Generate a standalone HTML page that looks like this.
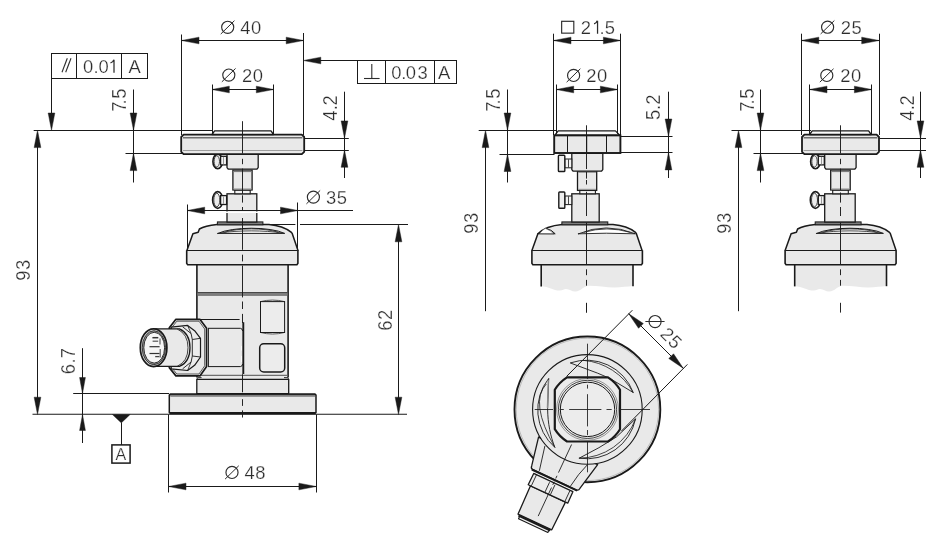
<!DOCTYPE html>
<html><head><meta charset="utf-8"><title>Drawing</title>
<style>html,body{margin:0;padding:0;background:#fff;}svg{display:block;will-change:transform}text{font-family:"Liberation Sans",sans-serif;}</style>
</head><body>
<svg width="938" height="546" viewBox="0 0 938 546">
<rect x="0" y="0" width="938" height="546" fill="#fff"/>
<rect x="196.89999999999998" y="264.6" width="91.2" height="114.6" fill="#e9e9e9"/>
<line x1="196.89999999999998" y1="264.6" x2="196.89999999999998" y2="377.6" stroke="#1a1a1a" stroke-width="1.6" />
<line x1="288.1" y1="264.6" x2="288.1" y2="377.6" stroke="#1a1a1a" stroke-width="1.6" />
<line x1="197.6" y1="294" x2="287.4" y2="294" stroke="#7d7d7d" stroke-width="3.2" />
<line x1="197.6" y1="292.5" x2="287.4" y2="292.5" stroke="#1a1a1a" stroke-width="0.7" />
<line x1="197.6" y1="295.5" x2="287.4" y2="295.5" stroke="#555" stroke-width="0.5" />
<line x1="197.7" y1="375.4" x2="287.3" y2="375.4" stroke="#6e6e6e" stroke-width="1.1" />
<polygon points="196.80,393.70 196.80,379.30 288.70,379.30 288.70,393.70" fill="#e9e9e9" stroke="#1a1a1a" stroke-width="1.3" stroke-linejoin="round" />
<path d="M197.0,379 L197.6,377.7 L201.2,377.6" fill="none" stroke="#1a1a1a" stroke-width="0.9" stroke-linejoin="round" stroke-linecap="round" />
<path d="M288.5,379 L287.9,377.7 L284.4,377.6" fill="none" stroke="#1a1a1a" stroke-width="0.9" stroke-linejoin="round" stroke-linecap="round" />
<polygon points="169.30,395.00 170.30,394.00 315.00,394.00 316.00,395.00 316.00,412.40 315.00,413.40 170.30,413.40 169.30,412.40" fill="#e9e9e9" stroke="#1a1a1a" stroke-width="1.5" stroke-linejoin="round" />
<line x1="169.8" y1="394.9" x2="315.5" y2="394.9" stroke="#1a1a1a" stroke-width="1.2" />
<line x1="169.8" y1="412.5" x2="315.5" y2="412.5" stroke="#1a1a1a" stroke-width="1.0" />
<line x1="170.3" y1="396.5" x2="315" y2="396.5" stroke="#8c8c8c" stroke-width="0.9" />
<path d="M187.0,250.3 L192.9,233.7 L198.2,232.3 L199.4,229 Q205.0,225.6 217.0,224.5 L268.9,224.5 Q282.9,225.6 291.4,232.3 L292.29999999999995,233.7 L297.9,250.3" fill="#e9e9e9" stroke="#1a1a1a" stroke-width="1.5" stroke-linejoin="round" stroke-linecap="round" />
<polygon points="186.70,250.30 186.70,263.40 187.70,264.80 296.90,264.80 297.90,263.40 297.90,250.30" fill="#e9e9e9"/>
<polyline points="186.70,250.30 186.70,263.40 187.70,264.80 296.90,264.80 297.90,263.40 297.90,250.30" fill="none" stroke="#1a1a1a" stroke-width="1.6" stroke-linejoin="round"/>
<line x1="186.7" y1="250.5" x2="297.9" y2="250.5" stroke="#1a1a1a" stroke-width="1.0" />
<path d="M217.8,233.4 L284.7,233.4 C269.98199999999997,226.5 232.518,226.5 217.8,233.4 Z" fill="#fff" stroke="#1a1a1a" stroke-width="1.0" stroke-linejoin="round" stroke-linecap="round" />
<path d="M224.8,232.1 C237.87,227.8 264.63,227.8 277.7,232.1" fill="none" stroke="#1a1a1a" stroke-width="0.8" stroke-linejoin="round" stroke-linecap="round" />
<path d="M220.8,232.9 C237.87,230.20000000000002 264.63,230.20000000000002 281.7,232.9" fill="none" stroke="#1a1a1a" stroke-width="0.8" stroke-linejoin="round" stroke-linecap="round" />
<path d="M260.5,301.6 Q272.5,298.4 284.6,301.6 M260.5,332.5 Q272.5,335.7 284.6,332.5" fill="none" stroke="#5a5a5a" stroke-width="1.0" stroke-linejoin="round" stroke-linecap="round" />
<rect x="260.5" y="301.6" width="24.10" height="30.90" rx="0" fill="#ececec" stroke="#1a1a1a" stroke-width="1.0" />
<rect x="259.7" y="343.8" width="25.00" height="28.20" rx="4" fill="#ececec" stroke="#1a1a1a" stroke-width="1.5" />
<polygon points="175.90,319.30 199.90,319.30 206.60,328.30 206.60,366.40 199.90,375.90 175.90,375.90 169.30,367.60 169.30,327.70" fill="#e9e9e9" stroke="#1a1a1a" stroke-width="1.7" stroke-linejoin="round" />
<polygon points="176.80,321.20 199.00,321.20 204.70,329.00 204.70,365.80 199.00,374.00 176.80,374.00 171.20,367.00 171.20,328.40" fill="none" stroke="#1a1a1a" stroke-width="0.7" stroke-linejoin="round" />
<line x1="200" y1="319.5" x2="239.6" y2="319.5" stroke="#1a1a1a" stroke-width="1.0" />
<path d="M208.4,328.3 L240.4,328.3 Q242.4,328.5 242.6,330.6" fill="none" stroke="#1a1a1a" stroke-width="1.0" stroke-linejoin="round" stroke-linecap="round" />
<path d="M208.4,366.6 L240.4,366.6 Q242.4,366.4 242.6,364.4" fill="none" stroke="#1a1a1a" stroke-width="1.0" stroke-linejoin="round" stroke-linecap="round" />
<line x1="208.5" y1="328.3" x2="208.5" y2="366.6" stroke="#1a1a1a" stroke-width="0.9" />
<line x1="243.3" y1="322.2" x2="243.3" y2="374" stroke="#1a1a1a" stroke-width="1.9" />
<polygon points="171.20,327.10 187.60,325.40 194.60,330.70 200.50,338.30 200.50,357.00 194.60,365.30 187.60,370.50 171.20,368.80" fill="#ececec" stroke="#1a1a1a" stroke-width="1.2" stroke-linejoin="round" />
<path d="M182.9,327 L191.1,333.6 L192.3,339.5 L192.3,356 L191.1,362 L182.9,368.6" fill="none" stroke="#1a1a1a" stroke-width="0.9" stroke-linejoin="round" stroke-linecap="round" />
<line x1="192.3" y1="339.5" x2="200.5" y2="338.3" stroke="#1a1a1a" stroke-width="0.9" />
<line x1="192.3" y1="356" x2="200.5" y2="357" stroke="#1a1a1a" stroke-width="0.9" />
<line x1="187.6" y1="325.4" x2="191.1" y2="333.6" stroke="#1a1a1a" stroke-width="0.8" />
<line x1="187.6" y1="370.5" x2="191.1" y2="362" stroke="#1a1a1a" stroke-width="0.8" />
<path d="M154,328.9 L179.4,328.9 Q190,333.5 190,347.7 Q190,362 179.4,366.4 L154,366.4 Z" fill="#e9e9e9" stroke="#1a1a1a" stroke-width="1.3" stroke-linejoin="round" stroke-linecap="round" />
<path d="M177.6,329.2 Q188,334 188,347.7 Q188,361.6 177.6,366.1" fill="none" stroke="#1a1a1a" stroke-width="0.8" stroke-linejoin="round" stroke-linecap="round" />
<ellipse cx="153.6" cy="347.7" rx="13.3" ry="18.9" fill="#dcdcdc" stroke="#1a1a1a" stroke-width="1.7"/>
<ellipse cx="153.9" cy="347.7" rx="11.7" ry="17" fill="#9a9a9a" stroke="#1a1a1a" stroke-width="0.8"/>
<ellipse cx="154.2" cy="347.7" rx="10.4" ry="15.4" fill="#f6f6f6" stroke="#1a1a1a" stroke-width="0.9"/>
<line x1="152.4" y1="337.7" x2="158.3" y2="337.7" stroke="#333" stroke-width="1.5" />
<line x1="152.6" y1="341.2" x2="158.2" y2="341.2" stroke="#555" stroke-width="1.2" />
<line x1="149.5" y1="346.7" x2="159.6" y2="346.7" stroke="#333" stroke-width="1.2" />
<line x1="149.5" y1="353.5" x2="159.6" y2="353.5" stroke="#333" stroke-width="1.2" />
<line x1="155.2" y1="356.6" x2="159.4" y2="356.6" stroke="#444" stroke-width="1.3" />
<line x1="160" y1="338.4" x2="160" y2="344.6" stroke="#555" stroke-width="1.1" />
<line x1="160.2" y1="349" x2="160.2" y2="357.6" stroke="#555" stroke-width="1.1" />
<rect x="217.4" y="221.9" width="45.50" height="2.90" rx="0" fill="#7d7d7d" stroke="#1a1a1a" stroke-width="1.0" />
<rect x="227.0" y="193.8" width="29.80" height="28.20" rx="0" fill="#e9e9e9" stroke="#1a1a1a" stroke-width="1.3" />
<rect x="234.79999999999998" y="190" width="15.40" height="3.80" rx="0" fill="#f4f4f4" stroke="#1a1a1a" stroke-width="1.1" />
<rect x="232.9" y="170.2" width="19.20" height="19.80" rx="0" fill="#e9e9e9" stroke="#1a1a1a" stroke-width="1.3" />
<line x1="233.5" y1="171.3" x2="251.5" y2="171.3" stroke="#7d7d7d" stroke-width="1.6" />
<line x1="233.5" y1="189" x2="251.5" y2="189" stroke="#9a9a9a" stroke-width="1.2" />
<polygon points="227.00,154.30 258.20,154.30 258.20,167.60 256.80,169.20 228.40,169.20 227.00,167.60" fill="#e9e9e9" stroke="#1a1a1a" stroke-width="1.3" stroke-linejoin="round" />
<ellipse cx="217.7" cy="161.4" rx="4.8" ry="7.3" fill="#fff" stroke="#1a1a1a" stroke-width="1.6"/>
<ellipse cx="216.8" cy="161.4" rx="2.6999999999999997" ry="5.699999999999999" fill="#ededed" stroke="#1a1a1a" stroke-width="0.8"/>
<rect x="220.6" y="156.3" width="6.00" height="8.60" rx="0" fill="#f4f4f4" stroke="#1a1a1a" stroke-width="1.3" />
<line x1="223.5" y1="156.9" x2="223.5" y2="164.3" stroke="#999" stroke-width="1.0" />
<ellipse cx="217.7" cy="200" rx="5.1" ry="8.4" fill="#fff" stroke="#1a1a1a" stroke-width="1.6"/>
<ellipse cx="216.8" cy="200" rx="2.9999999999999996" ry="6.800000000000001" fill="#ededed" stroke="#1a1a1a" stroke-width="0.8"/>
<rect x="220.6" y="195.6" width="6.00" height="8.90" rx="0" fill="#f4f4f4" stroke="#1a1a1a" stroke-width="1.3" />
<line x1="223.5" y1="196.2" x2="223.5" y2="203.9" stroke="#999" stroke-width="1.0" />
<line x1="225.6" y1="212.2" x2="258.6" y2="212.2" stroke="#fff" stroke-width="1.4" />
<polygon points="181.20,137.00 183.60,134.60 301.80,134.60 304.20,137.00 304.20,151.80 301.80,154.20 183.60,154.20 181.20,151.80" fill="#e9e9e9" stroke="#1a1a1a" stroke-width="1.8" stroke-linejoin="round" />
<line x1="183" y1="137.8" x2="302.4" y2="137.8" stroke="#6f6f6f" stroke-width="1.6" />
<line x1="183" y1="150.5" x2="302.4" y2="150.5" stroke="#8a8a8a" stroke-width="0.8" />
<polygon points="212.00,134.50 214.60,130.90 271.00,130.90 273.60,134.50" fill="#fafafa" stroke="#1a1a1a" stroke-width="1.3" stroke-linejoin="round" />
<line x1="242.5" y1="121.2" x2="242.5" y2="153.5" stroke="#1a1a1a" stroke-width="0.95" />
<line x1="242.5" y1="158.8" x2="242.5" y2="164.2" stroke="#1a1a1a" stroke-width="0.95" />
<line x1="242.5" y1="168.6" x2="242.5" y2="193.8" stroke="#1a1a1a" stroke-width="0.95" />
<line x1="242.5" y1="195.3" x2="242.5" y2="202.6" stroke="#1a1a1a" stroke-width="0.95" />
<line x1="242.5" y1="207" x2="242.5" y2="210" stroke="#1a1a1a" stroke-width="0.95" />
<line x1="242.5" y1="218" x2="242.5" y2="249.8" stroke="#1a1a1a" stroke-width="0.95" />
<line x1="242.5" y1="254.7" x2="242.5" y2="261.4" stroke="#1a1a1a" stroke-width="0.95" />
<line x1="242.5" y1="265.6" x2="242.5" y2="297.4" stroke="#1a1a1a" stroke-width="0.95" />
<line x1="242.5" y1="301.5" x2="242.5" y2="309" stroke="#1a1a1a" stroke-width="0.95" />
<line x1="242.5" y1="313.9" x2="242.5" y2="323" stroke="#1a1a1a" stroke-width="0.95" />
<line x1="242.5" y1="374.2" x2="242.5" y2="392.3" stroke="#1a1a1a" stroke-width="0.95" />
<line x1="242.5" y1="399.2" x2="242.5" y2="405.9" stroke="#1a1a1a" stroke-width="0.95" />
<line x1="242.5" y1="410.4" x2="242.5" y2="417.5" stroke="#1a1a1a" stroke-width="0.95" />
<line x1="241.5" y1="346" x2="241.5" y2="350.5" stroke="#fff" stroke-width="0.9" />
<line x1="241.5" y1="356" x2="241.5" y2="362" stroke="#fff" stroke-width="0.9" />
<rect x="51.5" y="53.5" width="96.00" height="25.00" rx="0" fill="none" stroke="#1a1a1a" stroke-width="1.0" />
<line x1="76.5" y1="53.5" x2="76.5" y2="78.5" stroke="#1a1a1a" stroke-width="1.0" />
<line x1="121.5" y1="53.5" x2="121.5" y2="78.5" stroke="#1a1a1a" stroke-width="1.0" />
<line x1="62" y1="72.3" x2="67.3" y2="58.2" stroke="#2c2c2c" stroke-width="1.1" />
<line x1="65.7" y1="72.3" x2="71" y2="58.2" stroke="#2c2c2c" stroke-width="1.1" />
<text x="82.93" y="72.8" font-size="18.4" fill="#2c2c2c" stroke="#fff" stroke-width="0.25">0</text>
<text x="93.60" y="72.8" font-size="18.4" fill="#2c2c2c" stroke="#fff" stroke-width="0.25">.</text>
<text x="98.58" y="72.8" font-size="18.4" fill="#2c2c2c" stroke="#fff" stroke-width="0.25">0</text>
<path d="M114.00,72.8 L114.00,59.80 M110.50,62.90 Q113.10,62.30 113.70,59.80" fill="none" stroke="#2c2c2c" stroke-width="1.25"/>
<text x="128.46" y="72.8" font-size="18.4" fill="#2c2c2c" stroke="#fff" stroke-width="0.25">A</text>
<line x1="51.5" y1="78.5" x2="51.5" y2="125" stroke="#1a1a1a" stroke-width="1.0" />
<polygon points="51.50,130.30 48.15,113.00 54.85,113.00" fill="#1a1a1a" stroke="#1a1a1a" stroke-width="0.45" stroke-linejoin="miter" stroke-miterlimit="10"/>
<line x1="33.7" y1="130.5" x2="213" y2="130.5" stroke="#1a1a1a" stroke-width="1.0" />
<line x1="37.5" y1="140" x2="37.5" y2="405" stroke="#1a1a1a" stroke-width="1.0" />
<polygon points="37.50,130.30 40.85,147.60 34.15,147.60" fill="#1a1a1a" stroke="#1a1a1a" stroke-width="0.45" stroke-linejoin="miter" stroke-miterlimit="10"/>
<polygon points="37.50,414.50 34.15,397.20 40.85,397.20" fill="#1a1a1a" stroke="#1a1a1a" stroke-width="0.45" stroke-linejoin="miter" stroke-miterlimit="10"/>
<text x="0" y="0" font-size="18.4" text-anchor="middle" fill="#2c2c2c" stroke="#fff" stroke-width="0.25" letter-spacing="0.5" transform="translate(29.5 270.0) rotate(-90) scale(1,1.05)" >93</text>
<line x1="133.5" y1="89.5" x2="133.5" y2="182.5" stroke="#1a1a1a" stroke-width="1.0" />
<polygon points="133.50,130.30 130.15,113.00 136.85,113.00" fill="#1a1a1a" stroke="#1a1a1a" stroke-width="0.45" stroke-linejoin="miter" stroke-miterlimit="10"/>
<polygon points="133.50,153.30 136.85,170.60 130.15,170.60" fill="#1a1a1a" stroke="#1a1a1a" stroke-width="0.45" stroke-linejoin="miter" stroke-miterlimit="10"/>
<line x1="125.5" y1="153.5" x2="182.5" y2="153.5" stroke="#1a1a1a" stroke-width="1.0" />
<g transform="translate(125.9 0) rotate(-90) scale(1,1.05)">
<text x="-111.84" y="0" font-size="18.4" fill="#2c2c2c" stroke="#fff" stroke-width="0.25">7</text>
<text x="-104.55" y="0" font-size="18.4" fill="#2c2c2c" stroke="#fff" stroke-width="0.25">.</text>
<text x="-98.79" y="0" font-size="18.4" fill="#2c2c2c" stroke="#fff" stroke-width="0.25">5</text>
</g>
<line x1="181.5" y1="34.5" x2="181.5" y2="135" stroke="#1a1a1a" stroke-width="1.0" />
<line x1="303.5" y1="33" x2="303.5" y2="135" stroke="#1a1a1a" stroke-width="1.0" />
<line x1="181.7" y1="40.5" x2="303.5" y2="40.5" stroke="#1a1a1a" stroke-width="1.0" />
<polygon points="181.70,40.50 199.00,37.15 199.00,43.85" fill="#1a1a1a" stroke="#1a1a1a" stroke-width="0.45" stroke-linejoin="miter" stroke-miterlimit="10"/>
<polygon points="303.50,40.50 286.20,43.85 286.20,37.15" fill="#1a1a1a" stroke="#1a1a1a" stroke-width="0.45" stroke-linejoin="miter" stroke-miterlimit="10"/>
<circle cx="227.7" cy="27.299999999999997" r="6.05" fill="none" stroke="#2c2c2c" stroke-width="1.15"/>
<line x1="220.74999999999997" y1="34.05" x2="234.45" y2="20.649999999999995" stroke="#2c2c2c" stroke-width="1.0" />
<text x="240.3" y="33.9" font-size="18.4" text-anchor="start" fill="#2c2c2c" stroke="#fff" stroke-width="0.25" letter-spacing="0.5" >40</text>
<line x1="212.5" y1="84.5" x2="212.5" y2="134" stroke="#1a1a1a" stroke-width="1.0" />
<line x1="273.5" y1="84.5" x2="273.5" y2="134" stroke="#1a1a1a" stroke-width="1.0" />
<line x1="212" y1="89.5" x2="273.6" y2="89.5" stroke="#1a1a1a" stroke-width="1.0" />
<polygon points="212.00,89.50 229.30,86.15 229.30,92.85" fill="#1a1a1a" stroke="#1a1a1a" stroke-width="0.45" stroke-linejoin="miter" stroke-miterlimit="10"/>
<polygon points="273.60,89.50 256.30,92.85 256.30,86.15" fill="#1a1a1a" stroke="#1a1a1a" stroke-width="0.45" stroke-linejoin="miter" stroke-miterlimit="10"/>
<circle cx="228.8" cy="75.10000000000001" r="6.05" fill="none" stroke="#2c2c2c" stroke-width="1.15"/>
<line x1="221.85" y1="81.85000000000001" x2="235.55" y2="68.45000000000002" stroke="#2c2c2c" stroke-width="1.0" />
<text x="242.10000000000002" y="81.7" font-size="18.4" text-anchor="start" fill="#2c2c2c" stroke="#fff" stroke-width="0.25" letter-spacing="0.5" >20</text>
<rect x="357.5" y="60.5" width="99.00" height="23.00" rx="0" fill="none" stroke="#1a1a1a" stroke-width="1.0" />
<line x1="385.5" y1="60.5" x2="385.5" y2="83.5" stroke="#1a1a1a" stroke-width="1.0" />
<line x1="434.5" y1="60.5" x2="434.5" y2="83.5" stroke="#1a1a1a" stroke-width="1.0" />
<line x1="364" y1="78.5" x2="379.6" y2="78.5" stroke="#2c2c2c" stroke-width="1.1" />
<line x1="371.8" y1="78.5" x2="371.8" y2="64" stroke="#2c2c2c" stroke-width="1.1" />
<text x="391.28" y="79.4" font-size="18.4" fill="#2c2c2c" stroke="#fff" stroke-width="0.25">0</text>
<text x="401.35" y="79.4" font-size="18.4" fill="#2c2c2c" stroke="#fff" stroke-width="0.25">.</text>
<text x="405.68" y="79.4" font-size="18.4" fill="#2c2c2c" stroke="#fff" stroke-width="0.25">0</text>
<text x="417.40" y="79.4" font-size="18.4" fill="#2c2c2c" stroke="#fff" stroke-width="0.25">3</text>
<text x="437.96" y="79.4" font-size="18.4" fill="#2c2c2c" stroke="#fff" stroke-width="0.25">A</text>
<line x1="310" y1="60.5" x2="357.5" y2="60.5" stroke="#1a1a1a" stroke-width="1.0" />
<polygon points="303.50,60.50 320.80,57.15 320.80,63.85" fill="#1a1a1a" stroke="#1a1a1a" stroke-width="0.45" stroke-linejoin="miter" stroke-miterlimit="10"/>
<line x1="344.5" y1="91.7" x2="344.5" y2="178" stroke="#1a1a1a" stroke-width="1.0" />
<polygon points="344.50,138.20 341.15,120.90 347.85,120.90" fill="#1a1a1a" stroke="#1a1a1a" stroke-width="0.45" stroke-linejoin="miter" stroke-miterlimit="10"/>
<polygon points="344.50,150.00 347.85,167.30 341.15,167.30" fill="#1a1a1a" stroke="#1a1a1a" stroke-width="0.45" stroke-linejoin="miter" stroke-miterlimit="10"/>
<line x1="304.4" y1="138.5" x2="348.8" y2="138.5" stroke="#1a1a1a" stroke-width="1.0" />
<line x1="304.4" y1="150.5" x2="348.8" y2="150.5" stroke="#1a1a1a" stroke-width="1.0" />
<g transform="translate(336.7 0) rotate(-90) scale(1,1.05)">
<text x="-120.72" y="0" font-size="18.4" fill="#2c2c2c" stroke="#fff" stroke-width="0.25">4</text>
<text x="-110.25" y="0" font-size="18.4" fill="#2c2c2c" stroke="#fff" stroke-width="0.25">.</text>
<text x="-105.52" y="0" font-size="18.4" fill="#2c2c2c" stroke="#fff" stroke-width="0.25">2</text>
</g>
<line x1="187.5" y1="204.5" x2="187.5" y2="250" stroke="#1a1a1a" stroke-width="1.0" />
<line x1="297.5" y1="202.5" x2="297.5" y2="250" stroke="#1a1a1a" stroke-width="1.0" />
<line x1="187.4" y1="210.5" x2="353" y2="210.5" stroke="#1a1a1a" stroke-width="1.0" />
<polygon points="187.40,210.50 204.70,207.15 204.70,213.85" fill="#1a1a1a" stroke="#1a1a1a" stroke-width="0.45" stroke-linejoin="miter" stroke-miterlimit="10"/>
<polygon points="297.80,210.50 280.50,213.85 280.50,207.15" fill="#1a1a1a" stroke="#1a1a1a" stroke-width="0.45" stroke-linejoin="miter" stroke-miterlimit="10"/>
<circle cx="313.4" cy="197.1" r="6.05" fill="none" stroke="#2c2c2c" stroke-width="1.15"/>
<line x1="306.45" y1="203.85" x2="320.15" y2="190.45" stroke="#2c2c2c" stroke-width="1.0" />
<text x="326.0" y="203.7" font-size="18.4" text-anchor="start" fill="#2c2c2c" stroke="#fff" stroke-width="0.25" letter-spacing="0.5" >35</text>
<line x1="268.7" y1="224.5" x2="295.4" y2="224.5" stroke="#1a1a1a" stroke-width="1.0" />
<line x1="300" y1="224.5" x2="408" y2="224.5" stroke="#1a1a1a" stroke-width="1.0" />
<line x1="398.5" y1="234" x2="398.5" y2="405" stroke="#1a1a1a" stroke-width="1.0" />
<polygon points="398.50,224.50 401.85,241.80 395.15,241.80" fill="#1a1a1a" stroke="#1a1a1a" stroke-width="0.45" stroke-linejoin="miter" stroke-miterlimit="10"/>
<polygon points="398.50,414.50 395.15,397.20 401.85,397.20" fill="#1a1a1a" stroke="#1a1a1a" stroke-width="0.45" stroke-linejoin="miter" stroke-miterlimit="10"/>
<text x="0" y="0" font-size="18.4" text-anchor="middle" fill="#2c2c2c" stroke="#fff" stroke-width="0.25" letter-spacing="0.5" transform="translate(392.3 320) rotate(-90) scale(1,1.05)" >62</text>
<line x1="32.5" y1="414.25" x2="407" y2="414.25" stroke="#1a1a1a" stroke-width="1.06" />
<line x1="82.5" y1="348.2" x2="82.5" y2="443" stroke="#1a1a1a" stroke-width="1.0" />
<polygon points="82.50,393.50 79.60,377.50 85.40,377.50" fill="#1a1a1a" stroke="#1a1a1a" stroke-width="0.45" stroke-linejoin="miter" stroke-miterlimit="10"/>
<polygon points="82.50,414.50 85.40,430.50 79.60,430.50" fill="#1a1a1a" stroke="#1a1a1a" stroke-width="0.45" stroke-linejoin="miter" stroke-miterlimit="10"/>
<line x1="73.2" y1="393.5" x2="169" y2="393.5" stroke="#1a1a1a" stroke-width="1.0" />
<g transform="translate(74.7 0) rotate(-90) scale(1,1.05)">
<text x="-374.24" y="0" font-size="18.4" fill="#2c2c2c" stroke="#fff" stroke-width="0.25">6</text>
<text x="-363.45" y="0" font-size="18.4" fill="#2c2c2c" stroke="#fff" stroke-width="0.25">.</text>
<text x="-358.34" y="0" font-size="18.4" fill="#2c2c2c" stroke="#fff" stroke-width="0.25">7</text>
</g>
<polygon points="112.30,414.50 130.20,414.50 121.30,423.00" fill="#1a1a1a" stroke="#1a1a1a" stroke-width="0.3" stroke-linejoin="round" />
<line x1="121.5" y1="422.5" x2="121.5" y2="445" stroke="#1a1a1a" stroke-width="1.0" />
<rect x="111.9" y="444.9" width="18.20" height="18.20" rx="0" fill="#fff" stroke="#1a1a1a" stroke-width="1.5" />
<text x="121.0" y="459.8" font-size="16" text-anchor="middle" fill="#2c2c2c" stroke="#fff" stroke-width="0.25" letter-spacing="0.5" >A</text>
<line x1="168.5" y1="414.5" x2="168.5" y2="492.5" stroke="#1a1a1a" stroke-width="1.0" />
<line x1="316.5" y1="414.5" x2="316.5" y2="492.5" stroke="#1a1a1a" stroke-width="1.0" />
<line x1="168.7" y1="486.5" x2="316.2" y2="486.5" stroke="#1a1a1a" stroke-width="1.0" />
<polygon points="168.70,486.50 186.00,483.15 186.00,489.85" fill="#1a1a1a" stroke="#1a1a1a" stroke-width="0.45" stroke-linejoin="miter" stroke-miterlimit="10"/>
<polygon points="316.20,486.50 298.90,489.85 298.90,483.15" fill="#1a1a1a" stroke="#1a1a1a" stroke-width="0.45" stroke-linejoin="miter" stroke-miterlimit="10"/>
<circle cx="232" cy="472.4" r="6.05" fill="none" stroke="#2c2c2c" stroke-width="1.15"/>
<line x1="225.04999999999998" y1="479.15" x2="238.75" y2="465.74999999999994" stroke="#2c2c2c" stroke-width="1.0" />
<text x="244.60000000000002" y="479" font-size="18.4" text-anchor="start" fill="#2c2c2c" stroke="#fff" stroke-width="0.25" letter-spacing="0.5" >48</text>
<path d="M541.1999999999999,264.6 L633.0,264.6 L633.0,286 C626.8,286.4 621.8,287.4 614.8,287.5 C606.8,287.6 596.8,285.7 589.0,285.8 C583.8,285.9 580.8,291.4 575.4,291.6 C571.8,291.8 569.8,289 566.0,289 C563.8,289 562.8,290.5 559.8,290.6 C553.8,290.8 548.8,286.5 541.1999999999999,286.2 Z" fill="#e9e9e9" stroke="none"/>
<line x1="541.1999999999999" y1="264.6" x2="541.1999999999999" y2="286.4" stroke="#1a1a1a" stroke-width="1.6" />
<line x1="633.0" y1="264.6" x2="633.0" y2="286.2" stroke="#1a1a1a" stroke-width="1.6" />
<path d="M532.0,250.3 L537.9,233.7 Q546.0,226 562.0,224.5 L613.0,224.5 Q627.0,225.6 635.5,232.3 L636.4,233.7 L642.0,250.3" fill="#e9e9e9" stroke="#1a1a1a" stroke-width="1.5" stroke-linejoin="round" stroke-linecap="round" />
<polygon points="531.90,250.30 531.90,263.40 532.90,264.80 641.40,264.80 642.40,263.40 642.40,250.30" fill="#e9e9e9"/>
<polyline points="531.90,250.30 531.90,263.40 532.90,264.80 641.40,264.80 642.40,263.40 642.40,250.30" fill="none" stroke="#1a1a1a" stroke-width="1.6" stroke-linejoin="round"/>
<line x1="531.9" y1="250.5" x2="642.4" y2="250.5" stroke="#1a1a1a" stroke-width="1.0" />
<path d="M537.6,233.8 L555.2,233.8 Q552,229.6 545.4,228.3" fill="none" stroke="#1a1a1a" stroke-width="1.0" stroke-linejoin="round" stroke-linecap="round" />
<path d="M539.5,233.4 Q543,229.4 545.4,228.3 Q551,230.4 553.6,233.6 Z" fill="#fff" stroke="#1a1a1a" stroke-width="0.5" stroke-linejoin="round" stroke-linecap="round" />
<path d="M578.4,233.8 Q606,222 635.4,233.8 Q606,232.6 578.4,233.8 Z" fill="#fff" stroke="#1a1a1a" stroke-width="0.9" stroke-linejoin="round" stroke-linecap="round" />
<path d="M584,232.3 Q607,225.4 630,232.3" fill="none" stroke="#1a1a1a" stroke-width="0.8" stroke-linejoin="round" stroke-linecap="round" />
<rect x="561.9" y="221.9" width="45.90" height="2.90" rx="0" fill="#7d7d7d" stroke="#1a1a1a" stroke-width="1.0" />
<rect x="571.8" y="193.8" width="27.40" height="28.20" rx="0" fill="#e9e9e9" stroke="#1a1a1a" stroke-width="1.3" />
<rect x="579.8" y="190.4" width="15.60" height="3.40" rx="0" fill="#f4f4f4" stroke="#1a1a1a" stroke-width="1.1" />
<rect x="577.5" y="171" width="19.20" height="19.40" rx="0" fill="#e9e9e9" stroke="#1a1a1a" stroke-width="1.3" />
<line x1="578.1999999999999" y1="172" x2="596.0" y2="172" stroke="#7d7d7d" stroke-width="1.4" />
<line x1="578.1999999999999" y1="189.4" x2="596.0" y2="189.4" stroke="#9a9a9a" stroke-width="1.2" />
<polygon points="571.80,153.40 602.80,153.40 602.80,169.60 601.40,171.20 573.20,171.20 571.80,169.60" fill="#e9e9e9" stroke="#1a1a1a" stroke-width="1.3" stroke-linejoin="round" />
<rect x="564.8" y="159" width="7.00" height="8.80" rx="0" fill="#f2f2f2" stroke="#1a1a1a" stroke-width="1.0" />
<line x1="568.5" y1="159.4" x2="568.5" y2="167.4" stroke="#1a1a1a" stroke-width="0.8" />
<rect x="558.4" y="155.3" width="6.40" height="16.20" rx="0.8" fill="#efefef" stroke="#1a1a1a" stroke-width="1.4" />
<rect x="564.8" y="196" width="7.00" height="8.60" rx="0" fill="#f2f2f2" stroke="#1a1a1a" stroke-width="1.0" />
<line x1="568.5" y1="196.4" x2="568.5" y2="204.2" stroke="#1a1a1a" stroke-width="0.8" />
<rect x="558.8" y="192" width="6.00" height="16.30" rx="0.8" fill="#efefef" stroke="#1a1a1a" stroke-width="1.4" />
<polygon points="554.90,135.20 558.20,130.80 615.40,130.80 619.80,135.20" fill="#fafafa" stroke="#1a1a1a" stroke-width="1.2" stroke-linejoin="round" />
<rect x="554.2" y="135.4" width="66.20" height="17.60" rx="0" fill="#e9e9e9" stroke="#1a1a1a" stroke-width="1.9" />
<line x1="567.5" y1="136" x2="567.5" y2="152.4" stroke="#1a1a1a" stroke-width="1.0" />
<line x1="606.5" y1="136" x2="606.5" y2="152.4" stroke="#1a1a1a" stroke-width="1.0" />
<line x1="586.6" y1="136" x2="586.6" y2="152.4" stroke="#1a1a1a" stroke-width="1.2" />
<line x1="586.5" y1="125.3" x2="586.5" y2="169" stroke="#1a1a1a" stroke-width="0.95" />
<line x1="586.5" y1="172" x2="586.5" y2="178.6" stroke="#1a1a1a" stroke-width="0.95" />
<line x1="586.5" y1="180" x2="586.5" y2="184.5" stroke="#1a1a1a" stroke-width="0.95" />
<line x1="586.5" y1="191.8" x2="586.5" y2="216" stroke="#1a1a1a" stroke-width="0.95" />
<line x1="586.5" y1="222.6" x2="586.5" y2="264.4" stroke="#1a1a1a" stroke-width="0.95" />
<line x1="586.5" y1="269.3" x2="586.5" y2="275.2" stroke="#1a1a1a" stroke-width="0.95" />
<line x1="586.5" y1="279.9" x2="586.5" y2="285.7" stroke="#1a1a1a" stroke-width="0.95" />
<line x1="586.5" y1="302.8" x2="586.5" y2="312.6" stroke="#1a1a1a" stroke-width="0.95" />
<line x1="553.5" y1="33.7" x2="553.5" y2="135" stroke="#1a1a1a" stroke-width="1.0" />
<line x1="620.5" y1="33.7" x2="620.5" y2="135" stroke="#1a1a1a" stroke-width="1.0" />
<line x1="553.7" y1="40.5" x2="620.7" y2="40.5" stroke="#1a1a1a" stroke-width="1.0" />
<polygon points="553.70,40.50 571.00,37.15 571.00,43.85" fill="#1a1a1a" stroke="#1a1a1a" stroke-width="0.45" stroke-linejoin="miter" stroke-miterlimit="10"/>
<polygon points="620.70,40.50 603.40,43.85 603.40,37.15" fill="#1a1a1a" stroke="#1a1a1a" stroke-width="0.45" stroke-linejoin="miter" stroke-miterlimit="10"/>
<rect x="561.65" y="21.3" width="12.15" height="11.85" fill="none" stroke="#2c2c2c" stroke-width="1.15"/>
<text x="580.78" y="33.7" font-size="18.4" fill="#2c2c2c" stroke="#fff" stroke-width="0.25">2</text>
<path d="M597.55,33.7 L597.55,20.70 M594.05,23.80 Q596.65,23.20 597.25,20.70" fill="none" stroke="#2c2c2c" stroke-width="1.25"/>
<text x="599.55" y="33.7" font-size="18.4" fill="#2c2c2c" stroke="#fff" stroke-width="0.25">.</text>
<text x="604.86" y="33.7" font-size="18.4" fill="#2c2c2c" stroke="#fff" stroke-width="0.25">5</text>
<line x1="556.5" y1="84.5" x2="556.5" y2="134" stroke="#1a1a1a" stroke-width="1.0" />
<line x1="617.5" y1="84.5" x2="617.5" y2="134" stroke="#1a1a1a" stroke-width="1.0" />
<line x1="556.4" y1="89.5" x2="617.7" y2="89.5" stroke="#1a1a1a" stroke-width="1.0" />
<polygon points="556.40,89.50 573.70,86.15 573.70,92.85" fill="#1a1a1a" stroke="#1a1a1a" stroke-width="0.45" stroke-linejoin="miter" stroke-miterlimit="10"/>
<polygon points="617.70,89.50 600.40,92.85 600.40,86.15" fill="#1a1a1a" stroke="#1a1a1a" stroke-width="0.45" stroke-linejoin="miter" stroke-miterlimit="10"/>
<circle cx="573.6" cy="75.4" r="6.05" fill="none" stroke="#2c2c2c" stroke-width="1.15"/>
<line x1="566.6500000000001" y1="82.15" x2="580.35" y2="68.75000000000001" stroke="#2c2c2c" stroke-width="1.0" />
<text x="586.3" y="82" font-size="18.4" text-anchor="start" fill="#2c2c2c" stroke="#fff" stroke-width="0.25" letter-spacing="0.5" >20</text>
<line x1="478.7" y1="130.5" x2="556" y2="130.5" stroke="#1a1a1a" stroke-width="1.0" />
<line x1="485.5" y1="140" x2="485.5" y2="311.2" stroke="#1a1a1a" stroke-width="1.0" />
<polygon points="485.50,130.30 488.85,147.60 482.15,147.60" fill="#1a1a1a" stroke="#1a1a1a" stroke-width="0.45" stroke-linejoin="miter" stroke-miterlimit="10"/>
<text x="0" y="0" font-size="18.4" text-anchor="middle" fill="#2c2c2c" stroke="#fff" stroke-width="0.25" letter-spacing="0.5" transform="translate(477.5 223.0) rotate(-90) scale(1,1.05)" >93</text>
<line x1="507.5" y1="89.5" x2="507.5" y2="182.5" stroke="#1a1a1a" stroke-width="1.0" />
<polygon points="507.50,130.30 504.15,113.00 510.85,113.00" fill="#1a1a1a" stroke="#1a1a1a" stroke-width="0.45" stroke-linejoin="miter" stroke-miterlimit="10"/>
<polygon points="507.50,154.20 510.85,171.50 504.15,171.50" fill="#1a1a1a" stroke="#1a1a1a" stroke-width="0.45" stroke-linejoin="miter" stroke-miterlimit="10"/>
<line x1="499.5" y1="154.5" x2="554.5" y2="154.5" stroke="#1a1a1a" stroke-width="1.0" />
<g transform="translate(499.9 0) rotate(-90) scale(1,1.05)">
<text x="-111.84" y="0" font-size="18.4" fill="#2c2c2c" stroke="#fff" stroke-width="0.25">7</text>
<text x="-104.55" y="0" font-size="18.4" fill="#2c2c2c" stroke="#fff" stroke-width="0.25">.</text>
<text x="-98.79" y="0" font-size="18.4" fill="#2c2c2c" stroke="#fff" stroke-width="0.25">5</text>
</g>
<line x1="668.5" y1="91.7" x2="668.5" y2="178" stroke="#1a1a1a" stroke-width="1.0" />
<polygon points="668.50,136.30 665.15,119.00 671.85,119.00" fill="#1a1a1a" stroke="#1a1a1a" stroke-width="0.45" stroke-linejoin="miter" stroke-miterlimit="10"/>
<polygon points="668.50,152.60 671.85,169.90 665.15,169.90" fill="#1a1a1a" stroke="#1a1a1a" stroke-width="0.45" stroke-linejoin="miter" stroke-miterlimit="10"/>
<line x1="620.6" y1="136.5" x2="672.5" y2="136.5" stroke="#1a1a1a" stroke-width="1.0" />
<line x1="620.6" y1="152.5" x2="672.5" y2="152.5" stroke="#1a1a1a" stroke-width="1.0" />
<g transform="translate(659.9 0) rotate(-90) scale(1,1.05)">
<text x="-120.04" y="0" font-size="18.4" fill="#2c2c2c" stroke="#fff" stroke-width="0.25">5</text>
<text x="-109.95" y="0" font-size="18.4" fill="#2c2c2c" stroke="#fff" stroke-width="0.25">.</text>
<text x="-104.72" y="0" font-size="18.4" fill="#2c2c2c" stroke="#fff" stroke-width="0.25">2</text>
</g>
<path d="M794.7,264.6 L886.5,264.6 L886.5,286 C880.7,286.4 875.7,287.4 868.7,287.5 C860.7,287.6 850.7,285.7 842.9000000000001,285.8 C837.7,285.9 834.7,291.4 829.3000000000001,291.6 C825.7,291.8 823.7,289 819.9000000000001,289 C817.7,289 816.7,290.5 813.7,290.6 C807.7,290.8 802.7,286.5 794.7,286.2 Z" fill="#e9e9e9" stroke="none"/>
<line x1="794.7" y1="264.6" x2="794.7" y2="286.4" stroke="#1a1a1a" stroke-width="1.6" />
<line x1="886.5" y1="264.6" x2="886.5" y2="286.2" stroke="#1a1a1a" stroke-width="1.6" />
<path d="M785.2,250.3 L791.1,233.7 L796.4000000000001,232.3 L797.6,229 Q803.2,225.6 815.2,224.5 L867.0,224.5 Q881.0,225.6 889.5,232.3 L890.4,233.7 L896.0,250.3" fill="#e9e9e9" stroke="#1a1a1a" stroke-width="1.5" stroke-linejoin="round" stroke-linecap="round" />
<polygon points="785.10,250.30 785.10,263.40 786.10,264.80 895.10,264.80 896.10,263.40 896.10,250.30" fill="#e9e9e9"/>
<polyline points="785.10,250.30 785.10,263.40 786.10,264.80 895.10,264.80 896.10,263.40 896.10,250.30" fill="none" stroke="#1a1a1a" stroke-width="1.6" stroke-linejoin="round"/>
<line x1="785.1" y1="250.5" x2="896.1" y2="250.5" stroke="#1a1a1a" stroke-width="1.0" />
<path d="M816.6,233.4 L883.4,233.4 C868.704,226.5 831.296,226.5 816.6,233.4 Z" fill="#fff" stroke="#1a1a1a" stroke-width="1.0" stroke-linejoin="round" stroke-linecap="round" />
<path d="M823.6,232.1 C836.64,227.8 863.36,227.8 876.4,232.1" fill="none" stroke="#1a1a1a" stroke-width="0.8" stroke-linejoin="round" stroke-linecap="round" />
<path d="M819.6,232.9 C836.64,230.20000000000002 863.36,230.20000000000002 880.4,232.9" fill="none" stroke="#1a1a1a" stroke-width="0.8" stroke-linejoin="round" stroke-linecap="round" />
<rect x="815.2" y="221.9" width="45.90" height="2.90" rx="0" fill="#7d7d7d" stroke="#1a1a1a" stroke-width="1.0" />
<rect x="824.7" y="193.8" width="30.50" height="28.20" rx="0" fill="#e9e9e9" stroke="#1a1a1a" stroke-width="1.3" />
<rect x="832.7" y="190" width="15.60" height="3.80" rx="0" fill="#f4f4f4" stroke="#1a1a1a" stroke-width="1.1" />
<rect x="830.7" y="170.2" width="19.50" height="19.80" rx="0" fill="#e9e9e9" stroke="#1a1a1a" stroke-width="1.3" />
<line x1="831.3000000000001" y1="171.3" x2="849.6" y2="171.3" stroke="#7d7d7d" stroke-width="1.6" />
<line x1="831.3000000000001" y1="189" x2="849.6" y2="189" stroke="#9a9a9a" stroke-width="1.2" />
<polygon points="824.70,154.30 856.10,154.30 856.10,167.60 854.70,169.20 826.10,169.20 824.70,167.60" fill="#e9e9e9" stroke="#1a1a1a" stroke-width="1.3" stroke-linejoin="round" />
<ellipse cx="815.4000000000001" cy="161.4" rx="4.8" ry="7.3" fill="#fff" stroke="#1a1a1a" stroke-width="1.6"/>
<ellipse cx="814.5" cy="161.4" rx="2.6999999999999997" ry="5.699999999999999" fill="#ededed" stroke="#1a1a1a" stroke-width="0.8"/>
<rect x="818.3000000000001" y="156.3" width="6.00" height="8.60" rx="0" fill="#f4f4f4" stroke="#1a1a1a" stroke-width="1.3" />
<line x1="821.5" y1="156.9" x2="821.5" y2="164.3" stroke="#999" stroke-width="1.0" />
<ellipse cx="815.4000000000001" cy="200" rx="5.1" ry="8.4" fill="#fff" stroke="#1a1a1a" stroke-width="1.6"/>
<ellipse cx="814.5" cy="200" rx="2.9999999999999996" ry="6.800000000000001" fill="#ededed" stroke="#1a1a1a" stroke-width="0.8"/>
<rect x="818.3000000000001" y="195.6" width="6.00" height="8.90" rx="0" fill="#f4f4f4" stroke="#1a1a1a" stroke-width="1.3" />
<line x1="821.5" y1="196.2" x2="821.5" y2="203.9" stroke="#999" stroke-width="1.0" />
<polygon points="802.00,137.00 804.40,134.60 876.60,134.60 879.00,137.00 879.00,151.80 876.60,154.20 804.40,154.20 802.00,151.80" fill="#e9e9e9" stroke="#1a1a1a" stroke-width="1.8" stroke-linejoin="round" />
<line x1="803.6" y1="137.8" x2="877.4" y2="137.8" stroke="#6f6f6f" stroke-width="1.6" />
<line x1="803.6" y1="150.5" x2="877.4" y2="150.5" stroke="#8a8a8a" stroke-width="0.8" />
<polygon points="809.60,134.50 812.20,130.90 868.60,130.90 871.20,134.50" fill="#fafafa" stroke="#1a1a1a" stroke-width="1.3" stroke-linejoin="round" />
<line x1="840.5" y1="125.3" x2="840.5" y2="153.5" stroke="#1a1a1a" stroke-width="0.95" />
<line x1="840.5" y1="158.8" x2="840.5" y2="164.2" stroke="#1a1a1a" stroke-width="0.95" />
<line x1="840.5" y1="168.6" x2="840.5" y2="190" stroke="#1a1a1a" stroke-width="0.95" />
<line x1="840.5" y1="192.5" x2="840.5" y2="202.6" stroke="#1a1a1a" stroke-width="0.95" />
<line x1="840.5" y1="207" x2="840.5" y2="216" stroke="#1a1a1a" stroke-width="0.95" />
<line x1="840.5" y1="222.6" x2="840.5" y2="264.4" stroke="#1a1a1a" stroke-width="0.95" />
<line x1="840.5" y1="269.3" x2="840.5" y2="275.2" stroke="#1a1a1a" stroke-width="0.95" />
<line x1="840.5" y1="279.9" x2="840.5" y2="285.7" stroke="#1a1a1a" stroke-width="0.95" />
<line x1="840.5" y1="302.8" x2="840.5" y2="312.6" stroke="#1a1a1a" stroke-width="0.95" />
<line x1="801.5" y1="33.7" x2="801.5" y2="135" stroke="#1a1a1a" stroke-width="1.0" />
<line x1="879.5" y1="33.7" x2="879.5" y2="135" stroke="#1a1a1a" stroke-width="1.0" />
<line x1="801.5" y1="40.5" x2="879" y2="40.5" stroke="#1a1a1a" stroke-width="1.0" />
<polygon points="801.50,40.50 818.80,37.15 818.80,43.85" fill="#1a1a1a" stroke="#1a1a1a" stroke-width="0.45" stroke-linejoin="miter" stroke-miterlimit="10"/>
<polygon points="879.00,40.50 861.70,43.85 861.70,37.15" fill="#1a1a1a" stroke="#1a1a1a" stroke-width="0.45" stroke-linejoin="miter" stroke-miterlimit="10"/>
<circle cx="827.6" cy="27.199999999999996" r="6.05" fill="none" stroke="#2c2c2c" stroke-width="1.15"/>
<line x1="820.6500000000001" y1="33.949999999999996" x2="834.35" y2="20.549999999999994" stroke="#2c2c2c" stroke-width="1.0" />
<text x="840.6999999999999" y="33.8" font-size="18.4" text-anchor="start" fill="#2c2c2c" stroke="#fff" stroke-width="0.25" letter-spacing="0.5" >25</text>
<line x1="809.5" y1="84.5" x2="809.5" y2="134" stroke="#1a1a1a" stroke-width="1.0" />
<line x1="871.5" y1="84.5" x2="871.5" y2="134" stroke="#1a1a1a" stroke-width="1.0" />
<line x1="809.7" y1="89.5" x2="871.7" y2="89.5" stroke="#1a1a1a" stroke-width="1.0" />
<polygon points="809.70,89.50 827.00,86.15 827.00,92.85" fill="#1a1a1a" stroke="#1a1a1a" stroke-width="0.45" stroke-linejoin="miter" stroke-miterlimit="10"/>
<polygon points="871.70,89.50 854.40,92.85 854.40,86.15" fill="#1a1a1a" stroke="#1a1a1a" stroke-width="0.45" stroke-linejoin="miter" stroke-miterlimit="10"/>
<circle cx="826.8" cy="75.4" r="6.05" fill="none" stroke="#2c2c2c" stroke-width="1.15"/>
<line x1="819.85" y1="82.15" x2="833.55" y2="68.75000000000001" stroke="#2c2c2c" stroke-width="1.0" />
<text x="840.1999999999999" y="82" font-size="18.4" text-anchor="start" fill="#2c2c2c" stroke="#fff" stroke-width="0.25" letter-spacing="0.5" >20</text>
<line x1="731.5" y1="130.5" x2="811" y2="130.5" stroke="#1a1a1a" stroke-width="1.0" />
<line x1="738.5" y1="140" x2="738.5" y2="311.2" stroke="#1a1a1a" stroke-width="1.0" />
<polygon points="738.50,130.30 741.85,147.60 735.15,147.60" fill="#1a1a1a" stroke="#1a1a1a" stroke-width="0.45" stroke-linejoin="miter" stroke-miterlimit="10"/>
<text x="0" y="0" font-size="18.4" text-anchor="middle" fill="#2c2c2c" stroke="#fff" stroke-width="0.25" letter-spacing="0.5" transform="translate(730.8 223.0) rotate(-90) scale(1,1.05)" >93</text>
<line x1="760.5" y1="89.5" x2="760.5" y2="182.5" stroke="#1a1a1a" stroke-width="1.0" />
<polygon points="760.50,130.30 757.15,113.00 763.85,113.00" fill="#1a1a1a" stroke="#1a1a1a" stroke-width="0.45" stroke-linejoin="miter" stroke-miterlimit="10"/>
<polygon points="760.50,153.30 763.85,170.60 757.15,170.60" fill="#1a1a1a" stroke="#1a1a1a" stroke-width="0.45" stroke-linejoin="miter" stroke-miterlimit="10"/>
<line x1="753.5" y1="153.5" x2="803" y2="153.5" stroke="#1a1a1a" stroke-width="1.0" />
<g transform="translate(753.9 0) rotate(-90) scale(1,1.05)">
<text x="-111.84" y="0" font-size="18.4" fill="#2c2c2c" stroke="#fff" stroke-width="0.25">7</text>
<text x="-104.55" y="0" font-size="18.4" fill="#2c2c2c" stroke="#fff" stroke-width="0.25">.</text>
<text x="-98.79" y="0" font-size="18.4" fill="#2c2c2c" stroke="#fff" stroke-width="0.25">5</text>
</g>
<line x1="920.5" y1="91.7" x2="920.5" y2="178" stroke="#1a1a1a" stroke-width="1.0" />
<polygon points="920.50,138.20 917.15,120.90 923.85,120.90" fill="#1a1a1a" stroke="#1a1a1a" stroke-width="0.45" stroke-linejoin="miter" stroke-miterlimit="10"/>
<polygon points="920.50,150.00 923.85,167.30 917.15,167.30" fill="#1a1a1a" stroke="#1a1a1a" stroke-width="0.45" stroke-linejoin="miter" stroke-miterlimit="10"/>
<line x1="879.2" y1="138.5" x2="926" y2="138.5" stroke="#1a1a1a" stroke-width="1.0" />
<line x1="879.2" y1="150.5" x2="926" y2="150.5" stroke="#1a1a1a" stroke-width="1.0" />
<g transform="translate(914.4 0) rotate(-90) scale(1,1.05)">
<text x="-120.72" y="0" font-size="18.4" fill="#2c2c2c" stroke="#fff" stroke-width="0.25">4</text>
<text x="-110.25" y="0" font-size="18.4" fill="#2c2c2c" stroke="#fff" stroke-width="0.25">.</text>
<text x="-105.52" y="0" font-size="18.4" fill="#2c2c2c" stroke="#fff" stroke-width="0.25">2</text>
</g>
<circle cx="587.4" cy="409.4" r="72.9" fill="#e9e9e9" stroke="#1a1a1a" stroke-width="1.9"/>
<circle cx="587.4" cy="409.4" r="71.2" fill="none" stroke="#9a9a9a" stroke-width="0.6"/>
<g transform="translate(587.4 409.4) rotate(25)">
<polygon points="-16.20,124.00 16.20,124.00 16.20,128.30 -16.20,128.30" fill="#f2f2f2" stroke="#1a1a1a" stroke-width="1.1" stroke-linejoin="round" />
<polygon points="-19.30,93.30 19.30,93.30 18.60,124.20 -18.60,124.20" fill="#e9e9e9" stroke="#1a1a1a" stroke-width="1.3" stroke-linejoin="round" />
<line x1="-17.6" y1="125.4" x2="17.6" y2="125.4" stroke="#1a1a1a" stroke-width="2.0" />
<polygon points="-21.60,80.70 21.60,80.70 21.80,93.30 -21.80,93.30" fill="#ececec" stroke="#1a1a1a" stroke-width="1.3" stroke-linejoin="round" />
<line x1="-18.5" y1="81" x2="-18.5" y2="93" stroke="#1a1a1a" stroke-width="0.8" />
<line x1="18.5" y1="81" x2="18.5" y2="93" stroke="#1a1a1a" stroke-width="0.8" />
<line x1="-3.5" y1="82" x2="-3.5" y2="93" stroke="#1a1a1a" stroke-width="0.8" />
<line x1="2.5" y1="82" x2="2.5" y2="93" stroke="#1a1a1a" stroke-width="0.8" />
<path d="M-32.6,45.7 L-26.6,74.8 Q-26.5,77.4 -24.4,77.6 L24.4,77.6 Q26.5,77.4 26.6,74.8 L32.6,45.7 Z" fill="#e9e9e9" stroke="#1a1a1a" stroke-width="1.3" stroke-linejoin="round" stroke-linecap="round" />
<line x1="-25" y1="78" x2="25" y2="78" stroke="#1a1a1a" stroke-width="2.0" />
<line x1="-23.1" y1="51" x2="-17.6" y2="76" stroke="#1a1a1a" stroke-width="0.8" />
<path d="M23.2,50.7 Q19,62 17.1,76.6" fill="none" stroke="#1a1a1a" stroke-width="0.8" stroke-linejoin="round" stroke-linecap="round" />
</g>
<circle cx="587.4" cy="409.4" r="54.8" fill="#e9e9e9" stroke="#1a1a1a" stroke-width="1.1"/>
<path d="M570.6,362.8 A49.6,49.6 0 0 1 633.2,392.5 L614,380.9 Q607,376.8 598,373.3 Z" fill="#ebebeb" stroke="#1a1a1a" stroke-width="0.9" stroke-linejoin="round" stroke-linecap="round" />
<path d="M584,360.4 A62,62 0 0 1 633.2,392.5" fill="none" stroke="#1a1a1a" stroke-width="0.8" stroke-linejoin="round" stroke-linecap="round" />
<path d="M635.5,419.2 A49.8,49.8 0 0 1 579.2,458.2 Q600,447.8 616.1,437.2 Z" fill="#ebebeb" stroke="#1a1a1a" stroke-width="0.9" stroke-linejoin="round" stroke-linecap="round" />
<path d="M635.5,419.2 A60.4,60.4 0 0 1 579.2,458.2" fill="none" stroke="#1a1a1a" stroke-width="0.8" stroke-linejoin="round" stroke-linecap="round" />
<path d="M548.5,378.7 A49.8,49.8 0 0 0 554.8,447.3 C550.5,436 547.8,424 547.6,409 Z" fill="#ebebeb" stroke="#1a1a1a" stroke-width="0.9" stroke-linejoin="round" stroke-linecap="round" />
<path d="M546.1,384.2 Q529.1,402.2 554.8,447.3" fill="none" stroke="#1a1a1a" stroke-width="0.8" stroke-linejoin="round" stroke-linecap="round" />
<line x1="548.3" y1="380" x2="547.5" y2="408" stroke="#8a8a8a" stroke-width="1.4" />
<path d="M567,377.4 L608,377.4 A38.2,38.2 0 0 1 620,389.8 L620,429.2 A38.2,38.2 0 0 1 608,441.5 L567,441.5 A38.2,38.2 0 0 1 554.8,429.2 L554.8,389.8 A38.2,38.2 0 0 1 567,377.4 Z" fill="#ececec" stroke="#1a1a1a" stroke-width="2.2" stroke-linejoin="round" stroke-linecap="round" />
<circle cx="587.5" cy="409.4" r="30.9" fill="none" stroke="#555" stroke-width="0.6"/>
<circle cx="587.5" cy="409.4" r="29.1" fill="none" stroke="#1a1a1a" stroke-width="0.8"/>
<circle cx="587.5" cy="409.4" r="27.2" fill="none" stroke="#1a1a1a" stroke-width="1.0"/>
<line x1="534.7" y1="409.5" x2="553" y2="409.5" stroke="#1a1a1a" stroke-width="0.85" />
<line x1="559.7" y1="409.5" x2="563.8" y2="409.5" stroke="#1a1a1a" stroke-width="0.85" />
<line x1="569.2" y1="409.5" x2="601.4" y2="409.5" stroke="#1a1a1a" stroke-width="0.85" />
<line x1="606.5" y1="409.5" x2="611.7" y2="409.5" stroke="#1a1a1a" stroke-width="0.85" />
<line x1="620" y1="409.5" x2="650" y2="409.5" stroke="#1a1a1a" stroke-width="0.85" />
<line x1="587.5" y1="343.7" x2="587.5" y2="378.8" stroke="#1a1a1a" stroke-width="0.85" />
<line x1="587.5" y1="384.7" x2="587.5" y2="388.6" stroke="#1a1a1a" stroke-width="0.85" />
<line x1="587.5" y1="394.2" x2="587.5" y2="426.4" stroke="#1a1a1a" stroke-width="0.85" />
<line x1="587.5" y1="430" x2="587.5" y2="435.2" stroke="#1a1a1a" stroke-width="0.85" />
<line x1="587.5" y1="441.5" x2="587.5" y2="472.3" stroke="#1a1a1a" stroke-width="0.85" />
<line x1="586.5" y1="303" x2="586.5" y2="312.5" stroke="#1a1a1a" stroke-width="0.85" />
<g transform="translate(587.4 409.4) rotate(25)">
<line x1="0.5" y1="38.5" x2="0.5" y2="69.5" stroke="#1a1a1a" stroke-width="0.8" />
<line x1="0.5" y1="73" x2="0.5" y2="76" stroke="#1a1a1a" stroke-width="0.8" />
<line x1="0.5" y1="79.5" x2="0.5" y2="83" stroke="#1a1a1a" stroke-width="0.8" />
<line x1="0.5" y1="86" x2="0.5" y2="117.5" stroke="#1a1a1a" stroke-width="0.8" />
</g>
<line x1="566.6" y1="376.4" x2="632.4" y2="310.2" stroke="#1a1a1a" stroke-width="1.0" />
<line x1="621.3" y1="431.2" x2="687.4" y2="364.4" stroke="#1a1a1a" stroke-width="1.0" />
<line x1="628.7" y1="313.7" x2="683.4" y2="368.4" stroke="#1a1a1a" stroke-width="1.0" />
<polygon points="628.70,313.70 643.30,323.56 638.56,328.30" fill="#1a1a1a" stroke="#1a1a1a" stroke-width="0.45" stroke-linejoin="miter" stroke-miterlimit="10"/>
<polygon points="683.40,368.40 668.80,358.54 673.54,353.80" fill="#1a1a1a" stroke="#1a1a1a" stroke-width="0.45" stroke-linejoin="miter" stroke-miterlimit="10"/>
<g transform="translate(628.7 313.7) rotate(45)">
<circle cx="24.2" cy="-13.1" r="6.05" fill="none" stroke="#2c2c2c" stroke-width="1.15"/>
<line x1="17.25" y1="-6.35" x2="30.95" y2="-19.75" stroke="#2c2c2c" stroke-width="1.0" />
<text x="36.8" y="-6.5" font-size="18.4" text-anchor="start" fill="#2c2c2c" stroke="#fff" stroke-width="0.25" letter-spacing="0.5" >25</text>
</g>
</svg>
</body></html>
